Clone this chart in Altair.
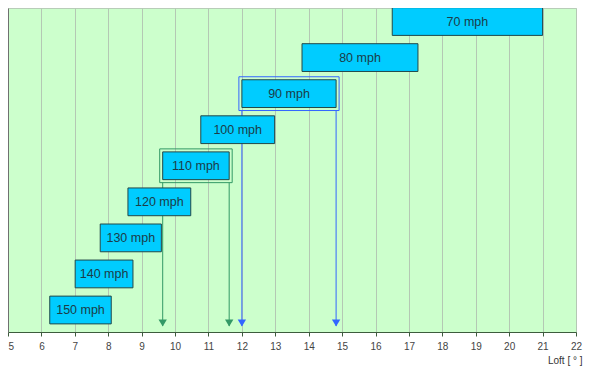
import altair as alt
import pandas as pd

# ---- data ----
speeds = ["70 mph", "80 mph", "90 mph", "100 mph", "110 mph",
          "120 mph", "130 mph", "140 mph", "150 mph"]
loft_lo = [16.5, 13.8, 12.0, 10.77, 9.63, 8.59, 7.76, 7.01, 6.25]
loft_hi = [21.0, 17.27, 14.82, 12.98, 11.62, 10.47, 9.59, 8.74, 8.09]
highlight_speeds = ["110 mph", "90 mph"]
highlight_colors = ["#339966", "#3366ff"]
x_ticks = list(range(5, 23))

n = len(speeds)
df = pd.DataFrame({
    "speed": speeds,
    "lo": loft_lo,
    "hi": loft_hi,
    "idx": [n - 1 - i for i in range(n)],
})

hl = pd.DataFrame({"speed": highlight_speeds, "color": highlight_colors}).merge(df, on="speed")
arrows = pd.concat([
    hl.assign(x=hl["lo"]),
    hl.assign(x=hl["hi"]),
], ignore_index=True)

ROW0 = 0.61
HALF = 0.385

xs = alt.Scale(domain=[5, 22], nice=False, zero=False)
ys = alt.Scale(domain=[0, 8.985], nice=False, zero=False)

x_axis = alt.Axis(
    values=x_ticks, grid=True, gridColor="#b4c8b4", gridWidth=1,
    labelOverlap=False,
    domainColor="#3d5c3d", tickColor="#3d5c3d", tickSize=4,
    labelColor="#444444", labelFont="Liberation Sans", labelFontSize=10,
    labelPadding=5,
    labelAlign={"expr": "datum.value == 5 ? 'left' : 'center'"},
    title="Loft [ ° ]", titleFont="Liberation Sans", titleFontSize=10,
    titleFontWeight="normal", titleColor="#333333",
    titleX=574, titleY=28, titleAlign="right", titleBaseline="middle",
)
y_axis = alt.Axis(labels=False, ticks=False, grid=False, title=None,
                  domainColor="#707070")


def calc(ch):
    return ch.transform_calculate(
        row=f"datum.idx + {ROW0}",
        top=f"datum.idx + {ROW0} + {HALF}",
        bot=f"datum.idx + {ROW0} - {HALF}",
        mid="(datum.lo + datum.hi) / 2",
    )


rules = calc(alt.Chart(arrows)).mark_rule(strokeWidth=1, yOffset=3, y2Offset=-6).encode(
    x=alt.X("x:Q", scale=xs, axis=x_axis),
    y=alt.Y("bot:Q", scale=ys, axis=y_axis),
    y2=alt.datum(0),
    color=alt.Color("color:N", scale=None),
)

tris = alt.Chart(arrows).mark_point(shape="triangle-down", filled=True, size=70,
                                    opacity=1, yOffset=-9).encode(
    x=alt.X("x:Q", scale=xs, axis=x_axis),
    y=alt.datum(0, scale=ys, axis=y_axis),
    color=alt.Color("color:N", scale=None),
)

bars = calc(alt.Chart(df)).mark_rect(fill="#00ccff", stroke="#224848", strokeWidth=1).encode(
    x=alt.X("lo:Q", scale=xs, axis=x_axis),
    x2="hi:Q",
    y=alt.Y("top:Q", scale=ys, axis=y_axis),
    y2="bot:Q",
)

frames = calc(alt.Chart(hl)).mark_rect(filled=False, strokeWidth=1,
                                      xOffset=-3, x2Offset=3, yOffset=-3, y2Offset=3).encode(
    x=alt.X("lo:Q", scale=xs, axis=x_axis),
    x2="hi:Q",
    y=alt.Y("top:Q", scale=ys, axis=y_axis),
    y2="bot:Q",
    stroke=alt.Stroke("color:N", scale=None),
)

labels = calc(alt.Chart(df)).mark_text(font="Liberation Sans", fontSize=12.5,
                                       color="#1c3c48").encode(
    x=alt.X("mid:Q", scale=xs, axis=x_axis),
    y=alt.Y("row:Q", scale=ys, axis=y_axis),
    text="speed:N",
)

chart = alt.layer(rules, tris, bars, frames, labels).properties(
    width=568, height=324,
    autosize=alt.AutoSizeParams(type="none"),
    padding={"left": 0, "top": 0, "right": 7, "bottom": 34},
).configure_view(fill="#ccffcc", stroke="#b8ccb8")

chart.save("out.html", embed_options={"renderer": "svg", "actions": False})
